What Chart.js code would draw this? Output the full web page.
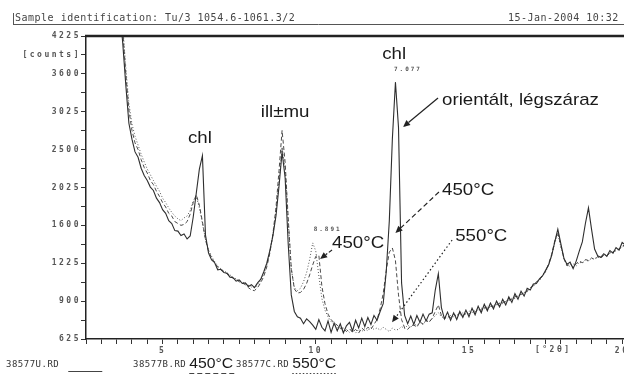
<!DOCTYPE html>
<html><head><meta charset="utf-8">
<script src="https://cdn.jsdelivr.net/npm/chart.js@4.4.1/dist/chart.umd.min.js"></script>
<style>html,body{margin:0;padding:0;background:#fff;overflow:hidden}canvas{display:block}</style>
</head><body>
<canvas id="c" width="624" height="374"></canvas>
<script>
// ---- data (2theta in degrees, intensities in counts) ----
const twoTheta = [
 3.6,3.7,3.8,3.9,4.0,4.1,4.2,4.3,4.4,4.5,4.6,4.7,4.8,4.9,5.0,5.1,5.2,5.3,5.4,5.5,5.6,5.7,5.8,5.9,
 6.0,6.1,6.2,6.3,6.4,6.5,6.6,6.7,6.8,6.9,7.0,7.1,7.2,7.3,7.4,7.5,7.6,7.7,7.8,7.9,
 8.0,8.1,8.2,8.3,8.4,8.5,8.6,8.7,8.8,8.9,9.0,9.1,9.2,9.3,9.4,9.5,9.6,9.7,9.8,9.9,
 10.0,10.1,10.2,10.3,10.4,10.5,10.6,10.7,10.8,10.9,11.0,11.1,11.2,11.3,11.4,11.5,11.6,11.7,11.8,11.9,
 12.0,12.1,12.2,12.3,12.4,12.5,12.6,12.7,12.8,12.9,13.0,13.1,13.2,13.3,13.4,13.5,13.6,13.7,13.8,13.9,
 14.0,14.1,14.2,14.3,14.4,14.5,14.6,14.7,14.8,14.9,15.0,15.1,15.2,15.3,15.4,15.5,15.6,15.7,15.8,15.9,
 16.0,16.1,16.2,16.3,16.4,16.5,16.6,16.7,16.8,16.9,17.0,17.1,17.2,17.3,17.4,17.5,17.6,17.7,17.8,17.9,
 18.0,18.1,18.2,18.3,18.4,18.5,18.6,18.7,18.8,18.9,19.0,19.1,19.2,19.3,19.4,19.5,19.6,19.7,19.8,19.9,
 20.0,20.1];
const countsAirDried = [
 4700,4100,3420,2860,2640,2470,2400,2260,2170,2110,2030,1990,1900,1850,1770,1730,1650,1620,1545,1540,1495,1510,1460,1490,
 1690,1960,2250,2420,1500,1320,1255,1230,1165,1170,1140,1135,1100,1095,1065,1075,1045,1050,1020,1035,
 1010,1050,1080,1145,1225,1345,1490,1700,2040,2470,2140,1410,950,820,780,770,730,765,745,720,
 690,760,705,680,750,670,735,680,730,665,715,740,680,755,700,770,710,775,725,790,
 755,820,880,1150,1650,2650,3470,2800,1050,790,730,785,725,790,740,800,750,800,810,990,
 1130,850,765,815,755,810,760,820,775,830,780,845,795,860,810,875,825,885,840,900,
 855,915,870,935,890,960,915,980,940,1005,990,1040,1045,1085,1110,1160,1210,1300,1430,1560,
 1410,1270,1215,1235,1175,1245,1340,1430,1620,1790,1560,1360,1295,1280,1315,1290,1345,1320,1375,1350,
 1425,1400];
const counts450 = [
 4900,4300,3600,3050,2760,2590,2500,2370,2270,2200,2110,2060,1980,1920,1850,1800,1730,1700,1640,1620,1600,1610,1640,1720,
 1850,1940,1820,1640,1450,1340,1275,1230,1190,1165,1150,1130,1115,1090,1080,1060,1050,1035,1010,990,
 985,1010,1050,1105,1190,1320,1510,1790,2230,2760,2330,1680,1180,1000,965,970,995,1045,1120,1210,
 1290,1300,1020,880,800,760,735,720,695,700,675,695,670,690,665,700,680,705,690,725,
 760,840,960,1160,1330,1370,1250,950,760,700,690,715,720,705,745,725,755,740,770,820,
 870,790,765,785,775,800,780,810,790,805,800,820,815,835,830,850,845,860,860,875,
 880,890,895,910,915,935,940,955,965,980,1010,1025,1060,1075,1120,1150,1220,1310,1440,1530,
 1390,1270,1200,1220,1190,1220,1245,1230,1260,1250,1275,1260,1285,1270,1300,1295,1320,1330,1350,1360,
 1390,1400];
const counts550 = [
 5000,4400,3700,3150,2850,2680,2560,2440,2340,2250,2180,2110,2040,1980,1900,1850,1790,1740,1700,1670,1650,1680,1700,1760,
 1870,1920,1790,1620,1460,1350,1290,1240,1200,1175,1155,1140,1120,1100,1085,1070,1060,1045,1030,1015,
 1010,1030,1070,1125,1210,1330,1500,1740,2100,2530,2250,1640,1170,1010,985,1005,1060,1140,1260,1420,
 1340,1110,920,830,780,745,725,700,705,680,690,670,685,665,690,675,695,680,705,690,
 700,685,705,690,675,700,685,690,710,695,720,705,730,715,740,730,750,745,765,790,
 810,780,775,770,790,780,800,790,810,800,825,810,835,825,845,840,860,850,870,865,
 885,880,905,900,925,920,945,950,970,975,1005,1020,1055,1070,1110,1145,1210,1300,1420,1510,
 1380,1265,1210,1195,1220,1200,1235,1225,1255,1245,1270,1265,1290,1280,1305,1300,1325,1320,1345,1355,
 1380,1395];
const yTickCounts = [625, 900, 1225, 1600, 2025, 2500, 3025, 3600, 4225];
const xTickLabels = [5, 10, 15, 20];
const seriesFiles = ['38577U.RD', '38577B.RD', '38577C.RD'];
const seriesTemps = ['', '450°C', '550°C'];
const headerText = 'Sample identification: Tu/3 1054.6-1061.3/2';
const dateText = '15-Jan-2004 10:32';
const xUnitText = '[°2θ]';
const yUnitText = '[counts]';

// ---- helpers ----
function pts(arr) {
  const n = Math.min(twoTheta.length, arr.length);
  const out = [];
  for (let i = 0; i < n; i++) out.push({ x: twoTheta[i], y: Math.sqrt(arr[i]) });
  return out;
}
const SQ = v => Math.sqrt(v);

const MONO = "'DejaVu Sans Mono', 'Liberation Mono', monospace";
const SANS = "'Liberation Sans', Arial, sans-serif";

const notes = [
  { text: 'chl', t: 6.22, c: 2656, align: 'center' },
  { text: 'ill±mu', t: 9.0, c: 3022, align: 'center' },
  { text: 'chl', t: 12.56, c: 3921, align: 'center' },
  { text: 'orientált, légszáraz', t: 14.12, c: 3198, align: 'left' },
  { text: '450°C', t: 14.12, c: 1995, align: 'left' },
  { text: '550°C', t: 14.55, c: 1490, align: 'left' },
  { text: '450°C', t: 10.53, c: 1419, align: 'left' }
];
const peakLabels = [
  { text: '7.077', t: 12.55, c: 3677 },
  { text: '8.891', t: 9.93, c: 1562 }
];
const arrows = [
  { from: [13.99, 3229], to: [12.85, 2808], dash: [] },
  { from: [14.02, 1972], to: [12.60, 1521], dash: [5, 3] },
  { from: [14.45, 1449], to: [12.49, 740], dash: [1.5, 2.5] },
  { from: [10.53, 1351], to: [10.14, 1264], dash: [4, 2] }
];

function arrow(ctx, x1, y1, x2, y2, dash) {
  ctx.save();
  ctx.strokeStyle = '#222';
  ctx.fillStyle = '#222';
  ctx.lineWidth = 1.2;
  ctx.setLineDash(dash);
  const a = Math.atan2(y2 - y1, x2 - x1);
  const hl = 7, hw = 3.2;
  const bx = x2 - Math.cos(a) * hl, by = y2 - Math.sin(a) * hl;
  ctx.beginPath(); ctx.moveTo(x1, y1); ctx.lineTo(bx, by); ctx.stroke();
  ctx.setLineDash([]);
  ctx.beginPath();
  ctx.moveTo(x2, y2);
  ctx.lineTo(bx + Math.sin(a) * hw, by - Math.cos(a) * hw);
  ctx.lineTo(bx - Math.sin(a) * hw, by + Math.cos(a) * hw);
  ctx.closePath(); ctx.fill();
  ctx.restore();
}

function sansText(ctx, text, x, y, size, align, sx) {
  ctx.save();
  ctx.letterSpacing = '0px';
  ctx.font = size + 'px ' + SANS;
  ctx.fillStyle = '#1a1a1a';
  ctx.textBaseline = 'middle';
  ctx.textAlign = align;
  ctx.translate(x, y);
  ctx.scale(sx, 1);
  ctx.fillText(text, 0, 0);
  ctx.restore();
}

const decorPlugin = {
  id: 'decor',
  beforeDraw(chart) {
    chart.ctx.letterSpacing = '2.5px';
  },
  afterDraw(chart) {
    const ctx = chart.ctx;
    const xs = chart.scales.x, ys = chart.scales.y;
    const ca = chart.chartArea;
    ctx.save();
    // header
    ctx.letterSpacing = '0.5px';
    ctx.font = '10px ' + MONO;
    ctx.fillStyle = '#444';
    ctx.textBaseline = 'alphabetic';
    ctx.textAlign = 'left';
    ctx.fillText(headerText, 15, 21);
    ctx.fillText(dateText, 508, 21);
    ctx.strokeStyle = '#555';
    ctx.lineWidth = 1;
    ctx.beginPath();
    ctx.moveTo(13, 24.5); ctx.lineTo(624, 24.5);
    ctx.moveTo(13.5, 13); ctx.lineTo(13.5, 24.5);
    ctx.stroke();
    // top frame
    ctx.strokeStyle = '#222';
    ctx.lineWidth = 2.5;
    ctx.beginPath(); ctx.moveTo(ca.left - 1, ca.top); ctx.lineTo(ca.right, ca.top); ctx.stroke();
    // x unit
    ctx.letterSpacing = '2.5px';
    ctx.font = 'bold 8px ' + MONO;
    ctx.fillStyle = '#555';
    ctx.textAlign = 'center';
    ctx.textBaseline = 'middle';
    ctx.fillText(xUnitText, xs.getPixelForValue(17.75), ca.bottom + 11);
    // peak d-labels
    ctx.letterSpacing = '2px';
    ctx.font = 'bold 6px ' + MONO;
    ctx.fillStyle = '#555';
    ctx.textAlign = 'left';
    peakLabels.forEach(p => ctx.fillText(p.text, xs.getPixelForValue(p.t), ys.getPixelForValue(SQ(p.c))));
    ctx.restore();
    // annotations
    notes.forEach(n => sansText(ctx, n.text, xs.getPixelForValue(n.t), ys.getPixelForValue(SQ(n.c)), 17, n.align, 1.1));
    arrows.forEach(a => arrow(ctx,
      xs.getPixelForValue(a.from[0]), ys.getPixelForValue(SQ(a.from[1])),
      xs.getPixelForValue(a.to[0]), ys.getPixelForValue(SQ(a.to[1])), a.dash));
    // bottom legend
    ctx.save();
    ctx.textBaseline = 'middle';
    ctx.textAlign = 'left';
    ctx.fillStyle = '#333';
    const lx = [6, 133, 236];
    const dashes = [[], [5, 3], [1.5, 2]];
    seriesFiles.forEach((f, i) => {
      ctx.font = '9px ' + MONO;
      ctx.letterSpacing = '0.5px';
      ctx.fillText(f, lx[i], 365);
      const w = ctx.measureText(f).width;
      const sx = lx[i] + w + 3;
      if (seriesTemps[i]) {
        sansText(ctx, seriesTemps[i], sx, 364, 15, 'left', 1.05);
      }
      ctx.save();
      ctx.strokeStyle = '#444';
      ctx.lineWidth = 1;
      ctx.setLineDash(dashes[i]);
      ctx.beginPath();
      if (i === 0) { ctx.moveTo(sx + 6, 371.5); ctx.lineTo(sx + 40, 371.5); }
      else { ctx.moveTo(sx, 373.5); ctx.lineTo(sx + 45, 373.5); }
      ctx.stroke();
      ctx.restore();
    });
    ctx.restore();
  }
};

new Chart(document.getElementById('c'), {
  type: 'line',
  data: {
    datasets: [
      { label: seriesFiles[0], data: pts(countsAirDried), borderColor: '#2e2e2e', borderWidth: 1.1, pointRadius: 0, tension: 0 },
      { label: seriesFiles[1], data: pts(counts450), borderColor: '#4a4a4a', borderWidth: 1, borderDash: [4, 2.5], pointRadius: 0, tension: 0 },
      { label: seriesFiles[2], data: pts(counts550), borderColor: '#555', borderWidth: 1, borderDash: [1, 2], pointRadius: 0, tension: 0 }
    ]
  },
  options: {
    responsive: false,
    animation: false,
    devicePixelRatio: 1,
    layout: { padding: { top: 36, left: 0, right: 0, bottom: 0 } },
    plugins: { legend: { display: false }, tooltip: { enabled: false } },
    scales: {
      x: {
        type: 'linear', min: 2.5, max: 20.06,
        grid: { drawOnChartArea: false, drawTicks: true, tickLength: 5, color: '#333', lineWidth: 1 },
        border: { display: true, color: '#222', width: 1.5 },
        ticks: {
          stepSize: 0.5, includeBounds: false, autoSkip: false, maxRotation: 0, minRotation: 0, padding: 2,
          font: { family: MONO, size: 8, weight: 'bold' }, color: '#555',
          callback: v => {
            const r = Math.round(v);
            return (Math.abs(v - r) < 1e-6 && xTickLabels.includes(r)) ? String(r) : '';
          }
        },
        afterFit: s => { s.height = 35; s.paddingLeft = 0; s.paddingRight = 0; }
      },
      y: {
        type: 'linear', min: 25, max: 65,
        grid: { drawOnChartArea: false, drawTicks: true, tickLength: 5, color: '#333', lineWidth: 1 },
        border: { display: true, color: '#222', width: 1.5 },
        ticks: {
          stepSize: 2.5, autoSkip: false, padding: 0,
          font: { family: MONO, size: 8, weight: 'bold' }, color: '#555',
          callback: v => {
            if (Math.abs(v - 62.5) < 1e-6) return yUnitText;
            const c = Math.round(v * v);
            return yTickCounts.includes(c) && Math.abs(v * v - c) < 1e-6 ? String(c) : '';
          }
        },
        afterFit: s => { s.width = 86; s.paddingTop = 0; s.paddingBottom = 0; }
      }
    }
  },
  plugins: [decorPlugin]
});
</script>
</body></html>
